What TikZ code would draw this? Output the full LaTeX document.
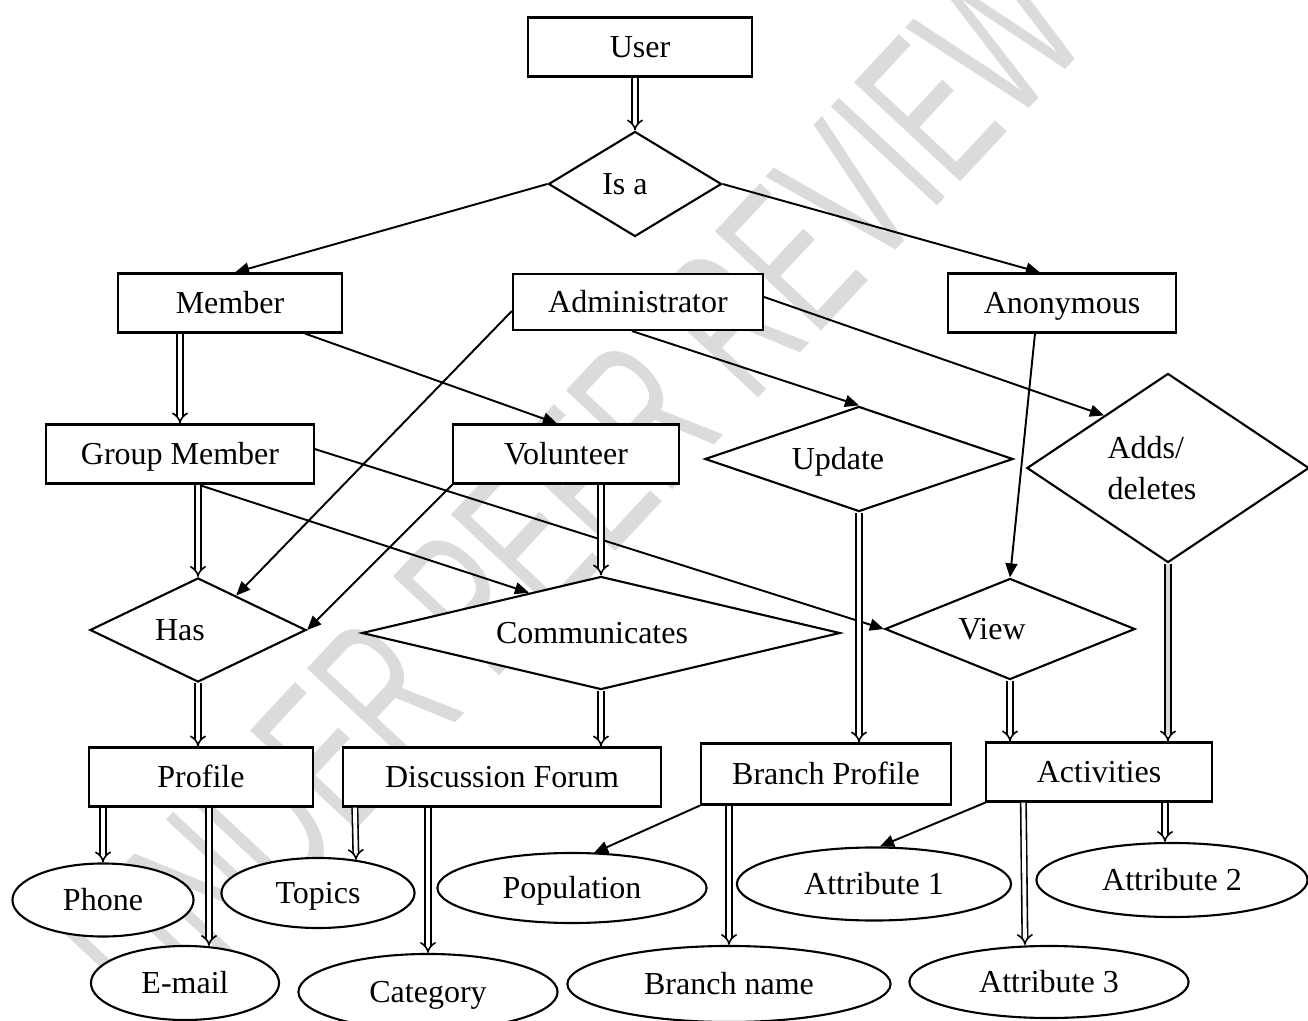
\documentclass[tikz,border=0pt]{standalone}
\usepackage{fontspec}
\setmainfont{Liberation Serif}
\newfontfamily\wmfont{Liberation Sans}
\usetikzlibrary{shapes.geometric,arrows.meta,calc}

\begin{document}
\begin{tikzpicture}[x=0.01cm, y=-0.01cm,
  txt/.style={text height=0.21cm, text depth=0pt},
  ent/.style={draw, rectangle, fill=white, line width=0.6pt, inner sep=0pt, minimum height=0.59cm, txt},
  relbase/.style={draw, diamond, fill=white, line width=0.6pt, inner sep=0pt},
  rel/.style={relbase, txt},
  att/.style={draw, ellipse, fill=white, line width=0.6pt, inner sep=0pt, txt},
  arr/.style={line width=0.55pt, -{Triangle[length=4pt, width=3.4pt]}},
  dbl/.style={double, double distance=1.1pt, line width=0.45pt, -{Implies}},
  wm/.style={text=black!14, font=\wmfont\fontsize{60}{60}\selectfont, rotate=47, xscale=0.6},
  every node/.append style={font=\fontsize{9.1}{11.5}\selectfont}]

\useasboundingbox (0,0) rectangle (1308,1021);

\node[wm] (wm) at (575,490) {UNDER PEER REVIEW};

\node[ent, minimum width=2.23cm] (user) at (640,47) {User};
\node[rel, aspect=1.65, minimum width=1.73cm, minimum height=1.05cm] (isa) at (635,184) {Is a\hspace*{0.2cm}};

\node[ent, minimum width=2.24cm] (mem) at (230,303) {Member};
\node[ent, minimum width=2.50cm, minimum height=0.56cm] (adm) at (638,302) {Administrator};
\node[ent, minimum width=2.27cm] (anon) at (1062,303) {Anonymous};

\node[ent, minimum width=2.67cm] (gm) at (180,454) {Group Member};
\node[ent, minimum width=2.25cm] (vol) at (566,454) {Volunteer};
\node[rel, aspect=2.9, minimum width=3.08cm, minimum height=1.05cm] (upd) at (859,459) {Update\hspace*{0.42cm}};
\node[relbase, aspect=1.5, minimum width=2.82cm, minimum height=1.89cm, align=left] (adds) at (1168,468) {Adds/\\deletes\hspace*{0.32cm}};

\node[rel, aspect=2.1, minimum width=2.16cm, minimum height=1.04cm] (has) at (198,630) {Has\hspace*{0.36cm}};
\node[rel, aspect=4.2, minimum width=4.78cm, minimum height=1.13cm] (com) at (601,633) {Communicates\hspace*{0.18cm}};
\node[rel, aspect=2.5, minimum width=2.50cm, minimum height=1.01cm] (view) at (1010,629) {View\hspace*{0.36cm}};

\node[ent, minimum width=2.24cm] (prof) at (201,777) {Profile};
\node[ent, minimum width=3.18cm] (df) at (502,777) {Discussion Forum};
\node[ent, minimum width=2.50cm, minimum height=0.61cm] (bp) at (826,774) {Branch Profile};
\node[ent, minimum width=2.25cm] (act) at (1099,772) {Activities};

\node[att, minimum width=1.81cm, minimum height=0.73cm] (phone) at (103,900) {Phone};
\node[att, minimum width=1.88cm, minimum height=0.74cm] (email) at (185,983) {E-mail};
\node[att, minimum width=1.93cm, minimum height=0.70cm] (topic) at (318,893) {Topics};
\node[att, minimum width=2.59cm, minimum height=0.76cm] (cat) at (428,992) {Category};
\node[att, minimum width=2.69cm, minimum height=0.70cm] (pop) at (572,888) {Population};
\node[att, minimum width=3.23cm, minimum height=0.76cm] (bn) at (729,984) {Branch name};
\node[att, minimum width=2.74cm, minimum height=0.73cm] (a1) at (874,884) {Attribute 1};
\node[att, minimum width=2.71cm, minimum height=0.74cm] (a2) at (1172,880) {Attribute 2};
\node[att, minimum width=2.79cm, minimum height=0.72cm] (a3) at (1049,982) {Attribute 3};

\draw[dbl] (isa.north |- user.south) -- (isa.north);
\draw[arr] (isa.west) -- ($(mem.north)+(5,0)$);
\draw[arr] (isa.east) -- ($(anon.north)+(-22,0)$);

\draw[dbl] (gm.north |- mem.south) -- (gm.north);
\draw[arr] ($(mem.south)+(75,0)$) -- ($(vol.north)+(-9,0)$);
\draw[arr] ($(adm.west)+(0,9)$) -- ($(has.north)!0.35!(has.east)$);
\draw[arr] ($(adm.south)+(-6,0)$) -- (upd.north);
\draw[arr] ($(adm.east)+(0,-5)$) -- ($(adds.west)!0.55!(adds.north)$);
\draw[arr] ($(anon.south)+(-27,0)$) -- (view.north);

\draw[arr] ($(gm.east)+(0,-5)$) -- (view.west);
\draw[arr] ($(gm.south)+(18,0)$) -- ($(com.west)!0.7!(com.north)$);
\draw[dbl] (has.north |- gm.south) -- (has.north);
\draw[arr] (vol.south west) -- (has.east);
\draw[dbl] (com.north |- vol.south) -- (com.north);
\draw[dbl] (upd.south) -- (upd.south |- bp.north);
\draw[dbl, double=black!15] (adds.south) -- (adds.south |- act.north);

\draw[dbl] (has.south) -- (has.south |- prof.north);
\draw[dbl] (com.south) -- (com.south |- df.north);
\draw[dbl] (view.south) -- (view.south |- act.north);

\draw[dbl] (phone.north |- prof.south) -- (phone.north);
\draw[dbl] ($(prof.south)+(8,0)$) -- ($(email.north)+(24,1)$);
\draw[dbl] ($(df.south west)+(13,0)$) -- ($(topic.north)+(38,3)$);
\draw[dbl] (cat.north |- df.south) -- (cat.north);
\draw[arr] (bp.south west) -- ($(pop.north)+(22,1)$);
\draw[dbl] (bn.north |- bp.south) -- (bn.north);
\draw[arr] (act.south west) -- ($(a1.north)+(6,0)$);
\draw[dbl] ($(act.south west)+(38,0)$) -- ($(a3.north)+(-24,0)$);
\draw[dbl] ($(act.south -| a2.north)+(-7,0)$) -- ($(a2.north)+(-7,0)$);
\end{tikzpicture}
\end{document}
